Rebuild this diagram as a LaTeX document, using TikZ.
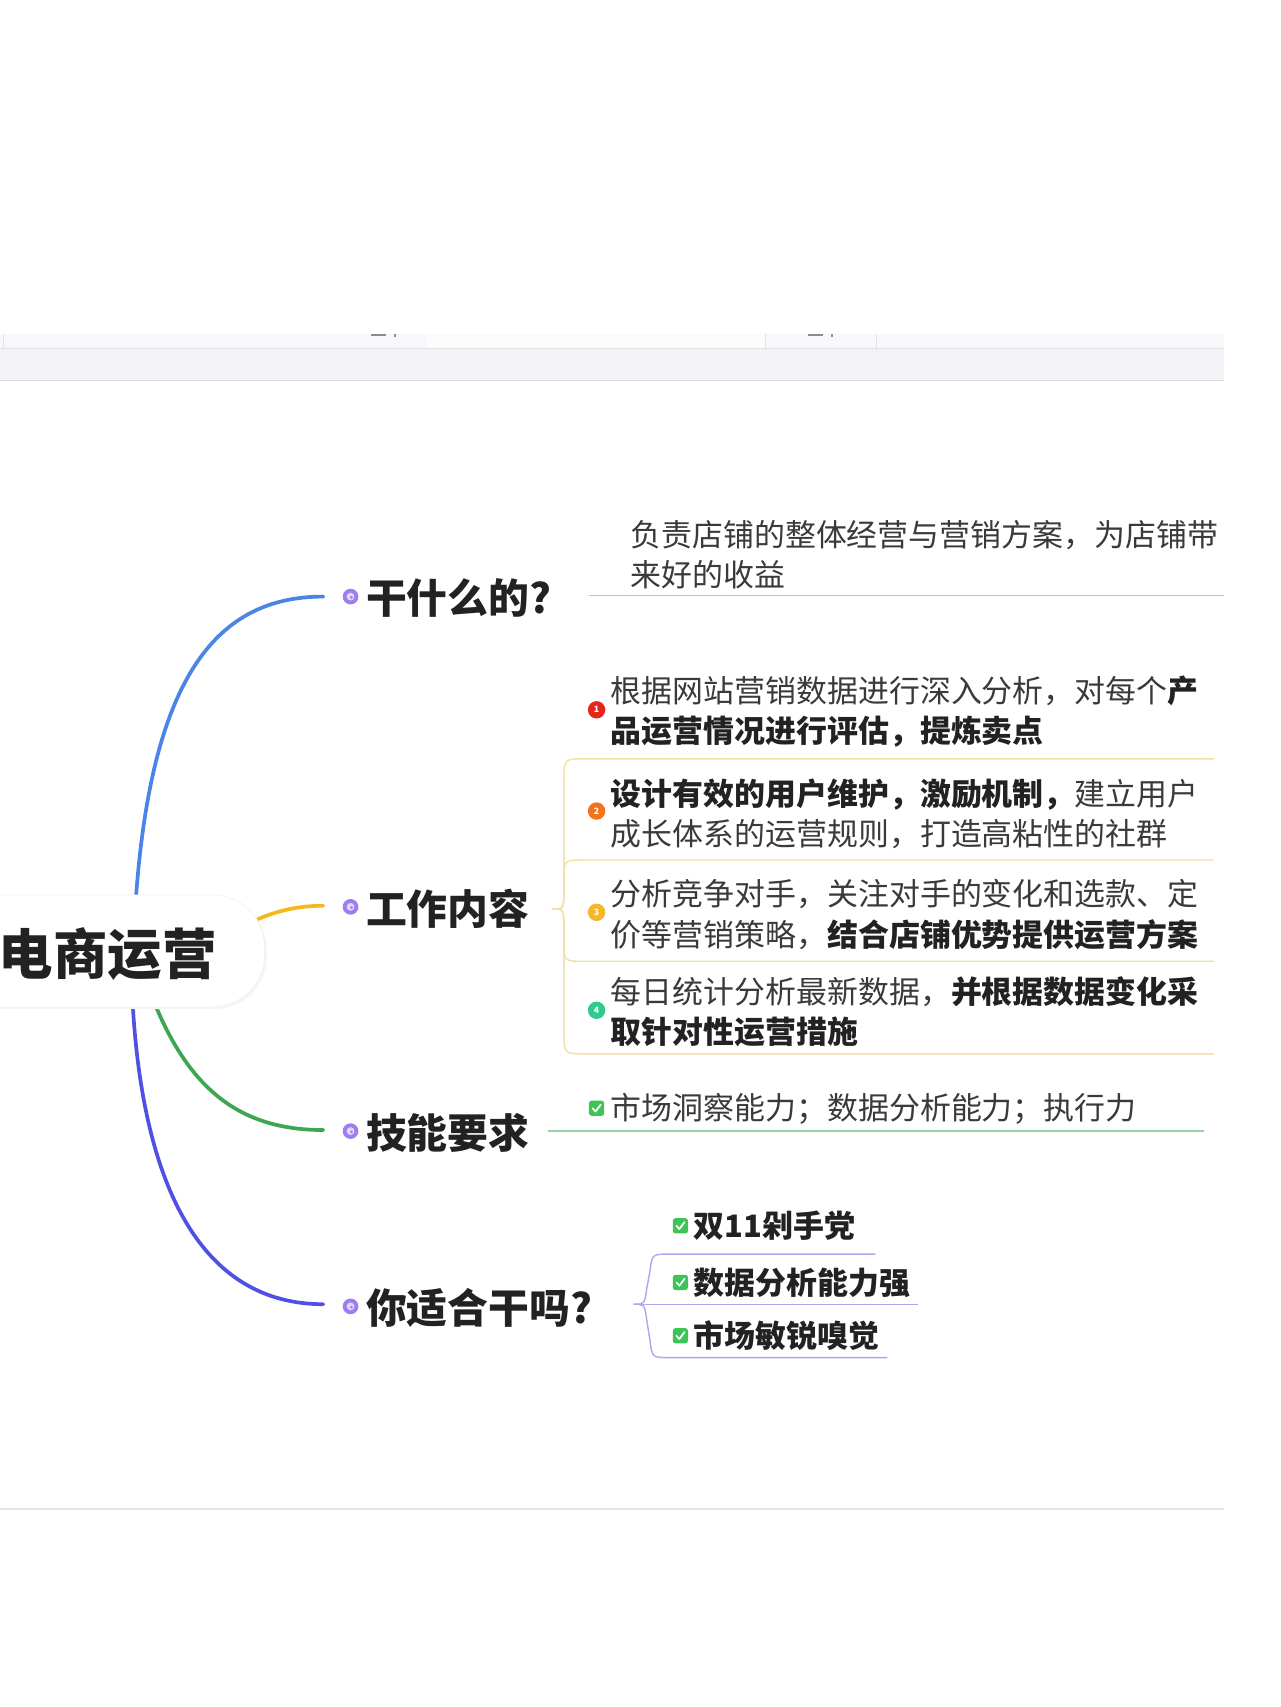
\documentclass[tikz,border=0pt]{standalone}
\usepackage{fontspec}
\setmainfont{Noto Sans CJK SC}
\usetikzlibrary{calc}
\definecolor{cblue}{HTML}{4A84E6}
\definecolor{cyellow}{HTML}{F4B81A}
\definecolor{cgreen}{HTML}{3DA650}
\definecolor{cindigo}{HTML}{5050E4}
\definecolor{ublue}{HTML}{A9C3E6}
\definecolor{uyellow}{HTML}{F3E0A2}
\definecolor{ugreen}{HTML}{98D2A4}
\definecolor{upurple}{HTML}{ADA8EE}
\definecolor{tdark}{HTML}{222222}
\definecolor{treg}{HTML}{3A3A3A}
\definecolor{tpurple}{HTML}{A07CF0}
\definecolor{chkgreen}{HTML}{3EC455}
\definecolor{nred}{HTML}{E6261B}
\definecolor{norange}{HTML}{F2721D}
\definecolor{nyellow}{HTML}{F5B62A}
\definecolor{ngreen}{HTML}{2ECB8C}
\definecolor{bandbg}{HTML}{F3F3F7}
\definecolor{bandtop}{HTML}{F8F8FB}
\definecolor{bandline}{HTML}{E2E2E8}
\begin{document}
\begin{tikzpicture}[x=1pt,y=-1pt,
  rootlabel/.style={inner sep=0pt, font=\fontsize{50}{56}\selectfont\bfseries, text=tdark},
  topic/.style={anchor=west, inner sep=0pt, font=\fontsize{37.5}{42}\selectfont\bfseries, text=tdark},
  sub/.style={anchor=west, inner sep=0pt, align=left, font=\fontsize{28.4}{37}\selectfont, text=treg},
  subbold/.style={anchor=west, inner sep=0pt, font=\fontsize{28.4}{37}\selectfont\bfseries, text=tdark},
  branch/.style={line width=3.4pt, line cap=round},
  uline/.style={line width=1.3pt},
  numicon/.style={circle, inner sep=0pt, minimum size=16pt, text=white, font=\fontsize{8}{8}\selectfont\bfseries},
  chk/.pic={\fill[chkgreen, rounded corners=2.5pt] (-7,-7) rectangle (7,7);
            \draw[white, line width=1.6pt, line cap=round, line join=round] (-3.6,0) -- (-1,3) -- (3.8,-3.4);},
  tdot/.pic={\fill[tpurple] (0,0) circle (7.2);
             \fill[tpurple!30] (0,0) circle (3.6);
             \fill[tpurple] (0.9,0.7) circle (1.4);}
]
\useasboundingbox (0,0) rectangle (1176,1568);
\fill[white] (0,0) rectangle (1176,1568);

% top band (cut-off window strip)
\fill[bandbg] (0,307) rectangle (1124,349);
\fill[bandtop] (0,307) rectangle (1124,320);
\fill[white!60!bandtop] (392,308) rectangle (703,319);
\draw[bandline, line width=0.8pt] (0,320) -- (1124,320);
\draw[bandline, line width=0.6pt] (3,307) -- (3,320);
\draw[bandline, line width=0.6pt] (703,307) -- (703,322);
\draw[bandline, line width=0.6pt] (805,307) -- (805,322);
\draw[black!15, line width=0.6pt] (0,349) -- (1124,349);
\fill[black!45] (341,307) rectangle (355,309);
\fill[black!45] (362,307) rectangle (364,309.5);
\fill[black!45] (742,307) rectangle (756,309);
\fill[black!45] (763,307) rectangle (765,309.5);

% bottom rule
\draw[black!10, line width=1.6pt] (0,1386) -- (1124,1386);

% anchor points of the branches
\coordinate (rb) at (125,823);
\coordinate (ry) at (233,846);
\coordinate (rg) at (143,924);
\coordinate (ri) at (122,924);
\coordinate (e1) at (297,548);
\coordinate (e2) at (297,832);
\coordinate (e3) at (297,1038);
\coordinate (e4) at (297,1198);

% main branches
\draw[branch, cblue] (rb) .. controls (140,620) and (200,548) .. (e1);
\draw[branch, cyellow] (ry) .. controls (255,836) and (275,832) .. (e2);
\draw[branch, cgreen] (rg) .. controls (175,1000) and (220,1038) .. (e3);
\draw[branch, cindigo] (ri) .. controls (130,1060) and (170,1198) .. (e4);

% central topic
\fill[black!4] (-60,824) [rounded corners=48pt] rectangle (245,927);
\draw[black!7, fill=white, rounded corners=48pt] (-60,822) rectangle (243,925);
\node[rootlabel] (root) at (99,876) {电商运营};

% main topics
\node[topic] (t1) at (336,549) {干什么的?};
\node[topic] (t2) at (336,835) {工作内容};
\node[topic] (t3) at (336,1041) {技能要求};
\node[topic] (t4) at (336,1201) {你适合干吗?};
\pic at (322,548) {tdot};
\pic at (322,833) {tdot};
\pic at (322,1039) {tdot};
\pic at (322,1200) {tdot};

% --- branch 1
\coordinate (u1s) at (541,547);
\coordinate (u1e) at (1124,547);
\draw[uline, ublue] (u1s) -- (u1e);
\node[sub] (c1) at (579,509.5) {负责店铺的整体经营与营销方案，为店铺带\\来好的收益};

% --- branch 2
\coordinate (j2) at (507,835);
\draw[uline, uyellow] (j2) .. controls (518,835) .. (518,815) -- (518,717) .. controls (518,697) .. (538,697) -- (1115,697);
\draw[uline, uyellow] (j2) .. controls (518,835) .. (518,818) -- (518,808) .. controls (518,790) .. (536,790) -- (1115,790);
\draw[uline, uyellow] (j2) .. controls (518,835) .. (518,852) -- (518,865) .. controls (518,883) .. (536,883) -- (1115,883);
\draw[uline, uyellow] (j2) .. controls (518,835) .. (518,855) -- (518,948) .. controls (518,968) .. (538,968) -- (1115,968);

\node[sub] (c21) at (561,653.5) {根据网站营销数据进行深入分析，对每个\textbf{\color{tdark}产}\\\textbf{\color{tdark}品运营情况进行评估，提炼卖点}};
\node[sub] (c22) at (561,747.5) {\textbf{\color{tdark}设计有效的用户维护，激励机制，}建立用户\\成长体系的运营规则，打造高粘性的社群};
\node[sub] (c23) at (561,840) {分析竞争对手，关注对手的变化和选款、定\\价等营销策略，\textbf{\color{tdark}结合店铺优势提供运营方案}};
\node[sub] (c24) at (561,929.5) {每日统计分析最新数据，\textbf{\color{tdark}并根据数据变化采}\\\textbf{\color{tdark}取针对性运营措施}};
\node[numicon, fill=nred] (n1) at (548,652) {1};
\node[numicon, fill=norange] (n2) at (548,745) {2};
\node[numicon, fill=nyellow] (n3) at (548,838) {3};
\node[numicon, fill=ngreen] (n4) at (548,928) {4};

% --- branch 3
\coordinate (u3s) at (503,1039);
\coordinate (u3e) at (1106,1039);
\draw[uline, ugreen] (u3s) -- (u3e);
\node[sub] (c3) at (561,1019) {市场洞察能力；数据分析能力；执行力};
\pic at (548,1018) {chk};

% --- branch 4
\coordinate (j4) at (582,1198);
\draw[uline, upurple] (j4) .. controls (592,1198) .. (594,1184) -- (597,1168) .. controls (599,1152) .. (614,1152) -- (804,1152);
\draw[uline, upurple] (j4) -- (843,1198);
\draw[uline, upurple] (j4) .. controls (592,1198) .. (594,1212) -- (597,1231) .. controls (599,1247) .. (614,1247) -- (815,1247);
\node[subbold] (c41) at (637,1126) {双11剁手党};
\node[subbold] (c42) at (637,1178) {数据分析能力强};
\node[subbold] (c43) at (637,1227) {市场敏锐嗅觉};
\pic at (625,1126) {chk};
\pic at (625,1178) {chk};
\pic at (625,1227) {chk};
\end{tikzpicture}
\end{document}
